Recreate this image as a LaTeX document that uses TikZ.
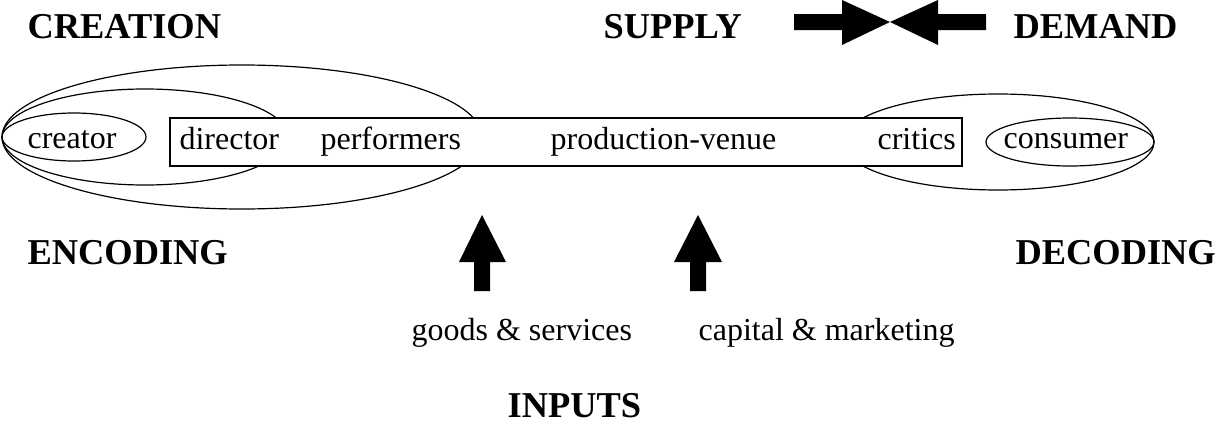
\documentclass[tikz,border=0pt]{standalone}
\usepackage{fontspec}
\setmainfont{Liberation Serif}
\usetikzlibrary{positioning}

\begin{document}
\begin{tikzpicture}[x=0.5pt,y=-0.5pt,line width=0.6pt,
	head/.style={font=\fontsize{18.2pt}{20pt}\selectfont\bfseries,inner sep=0,anchor=base west},
	txt/.style={font=\fontsize{16pt}{18pt}\selectfont,inner sep=0,anchor=base west},
	blockarrow/.style={fill=black}]
	\useasboundingbox (0,0) rectangle (1220,423);

	%titres
	\node [head] (creation) at (27,38) {CREATION};
	\node [head] (supply) at (603,38) {SUPPLY};
	\node [head] (demand) at (1013,38) {DEMAND};
	\node [head] (encoding) at (27,264) {ENCODING};
	\node [head] (decoding) at (1015,264) {DECODING};
	\node [head] (inputs) at (507,417) {INPUTS};

	%ellipses gauche
	\draw (242,137) ellipse [x radius=120pt, y radius=36pt];
	\draw (145,137) ellipse [x radius=71.5pt, y radius=24pt];
	\draw (74,137) ellipse [x radius=36pt, y radius=12pt];
	%ellipses droite
	\draw (998,142) ellipse [x radius=78pt, y radius=24pt];
	\draw (1070,142) ellipse [x radius=42pt, y radius=12pt];

	%production
	\filldraw [fill=white] (170,118) rectangle (962,166);
	\node [txt] (creator) at (27,148) {creator};
	\node [txt] (director) at (179,149) {director};
	\node [txt] (performers) at (320,149) {performers};
	\node [txt] (venue) at (550,149) {production-venue};
	\node [txt] (critics) at (877,149) {critics};
	\node [txt] (consumer) at (1003,148) {consumer};

	%offre et demande
	\fill [blockarrow] (794,14) -- (842,14) -- (842,0) -- (890,22) -- (842,45) -- (842,30) -- (794,30) -- cycle;
	\fill [blockarrow] (986,14) -- (938,14) -- (938,0) -- (890,22) -- (938,45) -- (938,30) -- (986,30) -- cycle;

	%inputs
	\fill [blockarrow] (474,291) -- (474,262) -- (459,262) -- (482,215) -- (506,262) -- (490,262) -- (490,291) -- cycle;
	\fill [blockarrow] (690,291) -- (690,262) -- (674,262) -- (698,215) -- (722,262) -- (706,262) -- (706,291) -- cycle;
	\node [txt] (goods) at (411,340) {goods \& services};
	\node [txt] (capital) at (698,340) {capital \& marketing};
\end{tikzpicture}
\end{document}
